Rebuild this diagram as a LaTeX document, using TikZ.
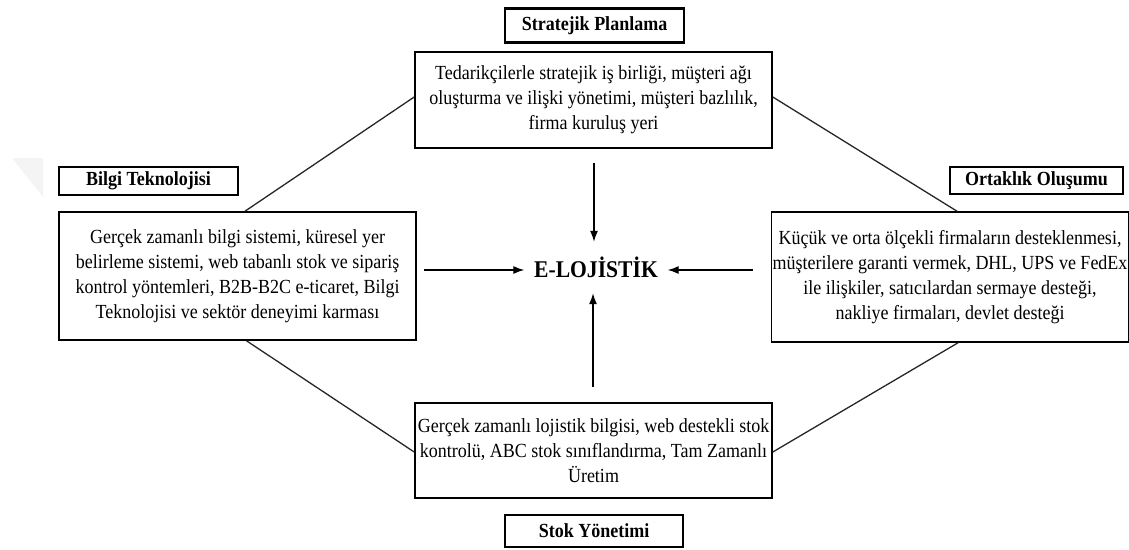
\documentclass[tikz,border=0pt]{standalone}
\usepackage{fontspec}
\setmainfont{Liberation Serif}[FakeStretch=0.9]
\usetikzlibrary{arrows.meta}
\tikzset{
  content/.style={draw=black, line width=1.6pt, align=center, inner sep=1pt,
    font=\fontsize{20}{25}\selectfont},
  titlebox/.style={draw=black, line width=2.2pt, align=center, inner sep=1pt,
    font=\bfseries\fontsize{20}{24}\selectfont},
  link/.style={draw=black!85, line width=1.3pt},
  flow/.style={draw=black, line width=1.3pt, -{Latex[length=11pt,width=8pt]}}
}
\begin{document}
\begin{tikzpicture}[x=1pt,y=-1pt]
\useasboundingbox (0,0) rectangle (1129,549);
% faint watermark
\fill[gray!9] (12,158) -- (43,158) -- (43,197) -- cycle;

% titles
\node[titlebox, minimum width=179pt, minimum height=34pt] (tSP) at (594.5,25.5) {Stratejik Planlama};
\node[titlebox, minimum width=179pt, minimum height=28pt] (tBT) at (148.5,181) {Bilgi Teknolojisi};
\node[titlebox, minimum width=173pt, minimum height=27pt] (tOO) at (1036.5,180.5) {Ortaklık Oluşumu};
\node[titlebox, minimum width=178pt, minimum height=32pt] (tSY) at (594,531) {Stok Yönetimi};

% content boxes
\node[content, minimum width=357pt, minimum height=96pt] (top) at (593.5,100)
  {Tedarikçilerle stratejik iş birliği, müşteri ağı\\oluşturma ve ilişki yönetimi, müşteri bazlılık,\\firma kuruluş yeri};
\node[content, minimum width=357pt, minimum height=128pt] (left) at (237.5,276)
  {Gerçek zamanlı bilgi sistemi, küresel yer\\belirleme sistemi, web tabanlı stok ve sipariş\\kontrol yöntemleri, B2B-B2C e-ticaret, Bilgi\\Teknolojisi ve sektör deneyimi karması};
\node[content, minimum width=356pt, minimum height=130pt] (right) at (950,277)
  {Küçük ve orta ölçekli firmaların desteklenmesi,\\müşterilere garanti vermek, DHL, UPS ve FedEx\\ile ilişkiler, satıcılardan sermaye desteği,\\nakliye firmaları, devlet desteği};
\node[content, minimum width=357pt, minimum height=95pt] (bottom) at (593.5,450.5)
  {Gerçek zamanlı lojistik bilgisi, web destekli stok\\kontrolü, ABC stok sınıflandırma, Tam Zamanlı\\Üretim};

% centre
\node[inner sep=0pt, minimum width=143pt, minimum height=51pt,
  font=\bfseries\fontsize{24}{28}\selectfont] (E) at (596,267.5) {E-LOJİSTİK};

% diamond links
\draw[link] ([yshift=3pt]top.west) -- ([xshift=7.5pt]left.north);
\draw[link] ([yshift=3pt]top.east) -- ([xshift=7pt]right.north);
\draw[link] ([xshift=9pt]left.south) -- ([yshift=-1.5pt]bottom.west);
\draw[link] ([xshift=8pt]right.south) -- ([yshift=-1.5pt]bottom.east);

% arrows
\draw[flow] ([xshift=0.5pt,yshift=-14pt]top.south) -- ([xshift=-2pt]E.north);
\draw[flow] ([xshift=7pt,yshift=6pt]left.east) -- ([yshift=-2.5pt]E.west);
\draw[flow] ([xshift=-18pt,yshift=7pt]right.west) -- ([yshift=-2.5pt]E.east);
\draw[flow] ([xshift=-0.5pt,yshift=15pt]bottom.north) -- ([xshift=-3pt]E.south);
\end{tikzpicture}
\end{document}
